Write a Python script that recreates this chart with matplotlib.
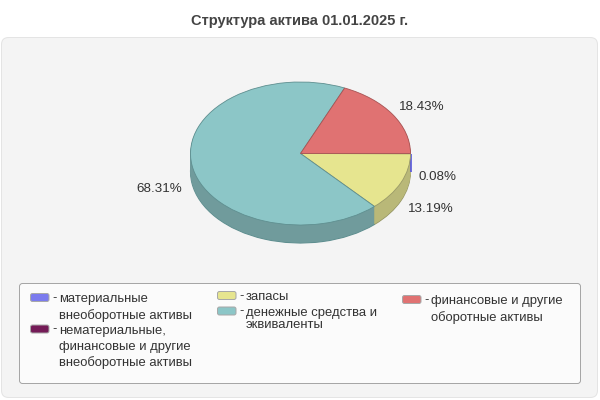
import matplotlib
matplotlib.use("Agg")
import matplotlib.pyplot as plt
from matplotlib.patches import FancyBboxPatch

plt.rcParams['font.family'] = ['Liberation Sans', 'DejaVu Sans']

title = "Структура актива 01.01.2025 г."
values = [0.08, 0.0, 13.19, 68.31, 18.43]
labels = ["0.08%", "", "13.19%", "68.31%", "18.43%"]
colors = ["#7b7bee", "#741b57", "#e6e58f", "#8cc6c7", "#e07272"]
side_colors = ["#5a5ac8", "#5a1443", "#b9b878", "#709b9c", "#b45a5a"]
edge_colors = ["#5f5fb8", "#5a1443", "#9a9a68", "#5f8f90", "#a85555"]
names = ["материальные\nвнеоборотные активы",
         "нематериальные,\nфинансовые и другие\nвнеоборотные активы",
         "запасы",
         "денежные средства и\nэквиваленты",
         "финансовые и другие\nоборотные активы"]

W, H = 600, 400
fig = plt.figure(figsize=(6, 4), dpi=100, facecolor="white")

bg = fig.add_axes([0, 0, 1, 1])
bg.set_xlim(0, W); bg.set_ylim(H, 0); bg.axis("off")
bg.add_patch(FancyBboxPatch((6.5, 42.5), 586, 350, boxstyle="round,pad=5,rounding_size=7",
                            fc="#f4f4f4", ec="#e4e4e4", lw=0.72))
bg.add_patch(FancyBboxPatch((22.5, 286.5), 555, 94, boxstyle="round,pad=3,rounding_size=3",
                            fc="#fbfbfb", ec="#a6a6a6", lw=0.72))
bg.text(300, 20.5, title, ha="center", va="center", fontsize=10.5, fontweight="bold", color="#444444")

# pie: axes spans the ellipse exactly
cx, cy, rx, ry, depth = 300.5, 153.5, 110, 71.5, 18
pie_ax = fig.add_axes([(cx - rx) / W, 1 - (cy + ry) / H, 2 * rx / W, 2 * ry / H], zorder=2)
offs = depth / ry
n = depth * 2
for i in range(n, 0, -1):
    c = -offs * i / n
    w, _ = pie_ax.pie(values, colors=side_colors, startangle=0, counterclock=False,
                      radius=1, center=(0, c), frame=False,
                      wedgeprops=dict(lw=0))
    if i == n:
        for p, e in zip(w, edge_colors):
            p.set_edgecolor(e); p.set_linewidth(0.8)
pie_ax.plot([1, 1], [0, -offs], color="#5555dd", lw=1.2, solid_capstyle="butt", clip_on=False, zorder=2)
w, _ = pie_ax.pie(values, colors=colors, startangle=0, counterclock=False, radius=1,
                  center=(0, 0), frame=False, wedgeprops=dict(lw=0.6))
for p, e in zip(w, edge_colors):
    p.set_edgecolor(e)
    p.set_zorder(3)
pie_ax.set_aspect("auto")
pie_ax.set_xlim(-1, 1); pie_ax.set_ylim(-1, 1)
for p in pie_ax.patches:
    p.set_clip_on(False)

label_pos = [(437.5, 177.5), None, (431, 208.5), (159, 189.5), (422, 106.5)]
for lab, pos in zip(labels, label_pos):
    if pos:
        bg.text(pos[0], pos[1], lab, ha="center", va="center", fontsize=9.6, color="#333333", zorder=5)

legend_pos = [(30.5, 297.5, 16), (30.5, 329, 16), (217.5, 295.5, 12), (217.5, 311, 12), (402.5, 299.5, 16)]
for name, col, (x, y, step) in zip(names, colors, legend_pos):
    bg.add_patch(FancyBboxPatch((x + 1.5, y - 2.5), 15.5, 5, boxstyle="round,pad=1.5,rounding_size=2",
                                fc=col, ec="#a8a8a8", lw=0.72))
    bg.text(x + 21.5, y + 0.5, "-", ha="left", va="center", fontsize=9.4, color="#333333")
    for j, line in enumerate(name.split("\n")):
        bg.text(x + 28.5, y + 1.8 + j * step, line, ha="left", va="center", fontsize=9.4, color="#333333")

fig.savefig("out.png", dpi=100)
